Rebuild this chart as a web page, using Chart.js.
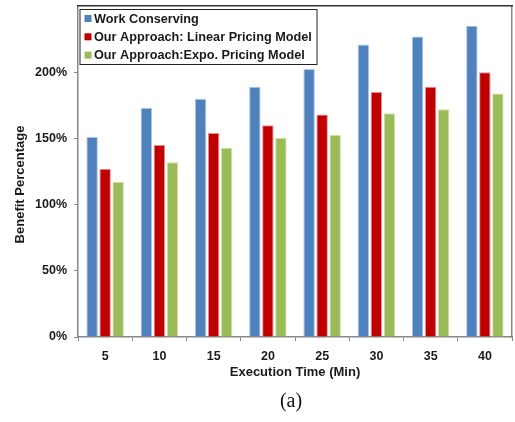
<!DOCTYPE html>
<html>
<head>
<meta charset="utf-8">
<script src="https://cdn.jsdelivr.net/npm/chart.js@4.4.1/dist/chart.umd.min.js"></script>
<style>
  html, body { margin: 0; padding: 0; background: #fff; }
  #wrap { width: 515px; height: 422px; position: relative; }
</style>
</head>
<body>
<div id="wrap"><canvas id="c" width="515" height="422"></canvas></div>
<script>
// Execution time categories (minutes)
const categories = ['5', '10', '15', '20', '25', '30', '35', '40'];

// Benefit percentage per series
const workConserving = [151, 173, 180, 189, 202.5, 221, 227, 235];
const linearPricing  = [127, 145, 154, 160, 168, 185, 189, 200];
const expoPricing    = [117, 132, 143, 150.5, 152.5, 169, 172, 184];

const seriesLabels = [
  'Work Conserving',
  'Our Approach: Linear Pricing Model',
  'Our Approach:Expo. Pricing Model'
];

const yTicks = [0, 50, 100, 150, 200];

const colors = ['#4F81BD', '#C00000', '#9BBB59'];
const edges  = ['#A9C4E6', '#E89090', '#CFE0A8'];

const tickFont  = { family: 'Liberation Sans, Arial, sans-serif', size: 12.5, weight: 'bold' };
const titleFont = { family: 'Liberation Sans, Arial, sans-serif', size: 13, weight: 'bold' };

// Boxed legend inside the plot, plus rotated y title and caption
const decorations = {
  id: 'decorations',
  afterDraw(chart) {
    const ctx = chart.ctx;
    const area = chart.chartArea;
    ctx.save();

    // legend box
    const bx = area.left + 1.5, by = area.top + 3, bw = 237, bh = 55;
    ctx.fillStyle = '#fff';
    ctx.fillRect(bx, by, bw, bh);
    ctx.strokeStyle = '#222';
    ctx.lineWidth = 1;
    ctx.strokeRect(bx + 0.5, by + 0.5, bw, bh);
    ctx.font = 'bold 12.7px "Liberation Sans", Arial, sans-serif';
    ctx.textBaseline = 'middle';
    ctx.textAlign = 'left';
    chart.data.datasets.forEach((ds, i) => {
      const cy = by + 9.5 + i * 18.3;
      ctx.fillStyle = ds.backgroundColor;
      ctx.fillRect(bx + 5, cy - 3.5, 7, 7);
      ctx.fillStyle = '#1a1a1a';
      ctx.fillText(ds.label, bx + 14.5, cy + 0.5);
    });

    // y axis title
    ctx.save();
    ctx.translate(20, 184.5);
    ctx.rotate(-Math.PI / 2);
    ctx.textAlign = 'center';
    ctx.textBaseline = 'middle';
    ctx.fillStyle = '#1a1a1a';
    ctx.font = 'bold 13px "Liberation Sans", Arial, sans-serif';
    ctx.fillText('Benefit Percentage', 0, 0);
    ctx.restore();

    // caption
    ctx.fillStyle = '#111';
    ctx.font = '20px "Liberation Serif", "Times New Roman", serif';
    ctx.textAlign = 'center';
    ctx.textBaseline = 'middle';
    ctx.fillText('(a)', 291, 402);

    ctx.restore();
  }
};

new Chart(document.getElementById('c'), {
  type: 'bar',
  data: {
    labels: categories,
    datasets: [
      { label: seriesLabels[0], data: workConserving, backgroundColor: colors[0], borderColor: edges[0] },
      { label: seriesLabels[1], data: linearPricing,  backgroundColor: colors[1], borderColor: edges[1] },
      { label: seriesLabels[2], data: expoPricing,    backgroundColor: colors[2], borderColor: edges[2] }
    ]
  },
  options: {
    responsive: false,
    animation: false,
    devicePixelRatio: 1,
    layout: { padding: { left: 0, right: 3, top: 6, bottom: 42 } },
    datasets: {
      bar: { barPercentage: 0.88, categoryPercentage: 0.72, borderWidth: 1, borderSkipped: 'bottom' }
    },
    plugins: {
      legend: { display: false },
      tooltip: { enabled: false }
    },
    scales: {
      x: {
        grid: {
          display: true,
          offset: true,
          drawOnChartArea: false,
          drawTicks: true,
          tickLength: 4,
          color: '#888',
          tickColor: '#888'
        },
        border: { display: true, color: '#888', width: 1.5 },
        ticks: { font: tickFont, color: '#1a1a1a', padding: 8 },
        title: {
          display: true,
          text: 'Execution Time (Min)',
          font: titleFont,
          color: '#1a1a1a',
          padding: { top: 0, bottom: 0 }
        },
        afterFit(scale) { scale.height = 43; scale.paddingLeft = 0; scale.paddingRight = 0; }
      },
      y: {
        min: 0,
        max: 250,
        afterBuildTicks(scale) { scale.ticks = yTicks.map(v => ({ value: v })); },
        grid: {
          display: true,
          drawOnChartArea: false,
          drawTicks: true,
          tickLength: 4,
          color: '#888',
          tickColor: '#888'
        },
        border: { display: true, color: '#888', width: 1.5 },
        ticks: {
          font: tickFont,
          color: '#1a1a1a',
          padding: 7,
          callback: v => v + '%'
        },
        afterFit(scale) { scale.width = 78; scale.paddingTop = 0; scale.paddingBottom = 0; }
      },
      yRight: {
        position: 'right',
        min: 0, max: 250,
        grid: { display: false },
        ticks: { display: false },
        border: { display: true, color: '#888', width: 1.5 },
        afterFit(scale) { scale.width = 0; scale.paddingTop = 0; scale.paddingBottom = 0; }
      },
      xTop: {
        position: 'top',
        grid: { display: false },
        ticks: { display: false },
        border: { display: true, color: '#333', width: 1.5 },
        afterFit(scale) { scale.height = 0; scale.paddingLeft = 0; scale.paddingRight = 0; }
      }
    }
  },
  plugins: [decorations]
});
</script>
</body>
</html>
